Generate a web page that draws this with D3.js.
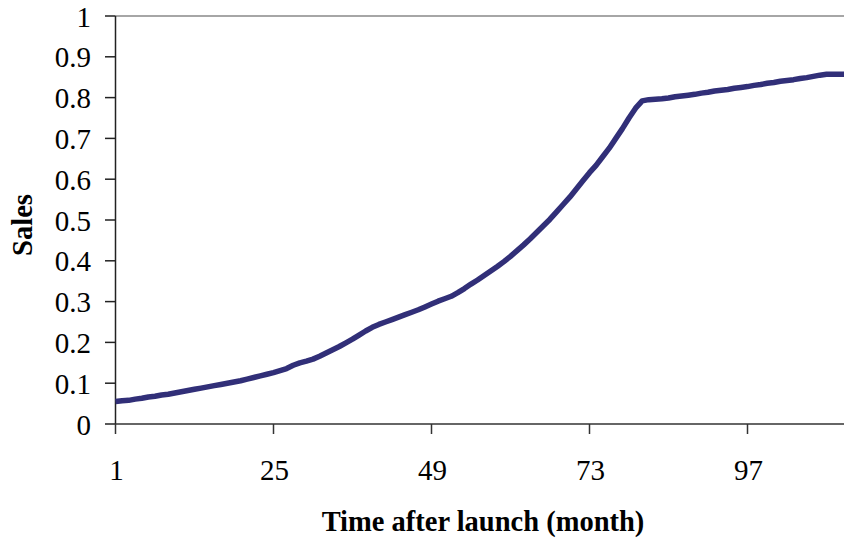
<!DOCTYPE html>
<html>
<head>
<meta charset="utf-8">
<script src="https://cdn.jsdelivr.net/npm/d3@7"></script>
<style>
html,body{margin:0;padding:0;background:#fff;}
svg{display:block;}
</style>
</head>
<body>
<svg id="chart" width="844" height="542"></svg>
<script>
const months = d3.range(1, 113);
const sales = [
0.055,0.057,0.058,0.061,0.063,0.066,0.068,0.071,0.073,0.076,
0.079,0.082,0.085,0.088,0.091,0.094,0.097,0.100,0.103,0.106,
0.110,0.114,0.118,0.122,0.126,0.131,0.136,0.144,0.150,0.154,
0.159,0.166,0.174,0.182,0.190,0.199,0.208,0.218,0.228,0.237,
0.244,0.250,0.256,0.262,0.268,0.274,0.280,0.287,0.294,0.301,
0.307,0.313,0.322,0.332,0.343,0.353,0.364,0.375,0.386,0.398,
0.411,0.425,0.439,0.454,0.470,0.486,0.502,0.520,0.538,0.556,
0.576,0.596,0.616,0.634,0.655,0.676,0.700,0.724,0.750,0.774,
0.792,0.795,0.796,0.797,0.799,0.802,0.804,0.806,0.808,0.811,
0.813,0.816,0.818,0.820,0.823,0.825,0.827,0.830,0.832,0.835,
0.837,0.840,0.842,0.844,0.847,0.849,0.852,0.855,0.857,0.857,
0.857,0.857
];
const xTicks = [1, 25, 49, 73, 97];
const yTicks = [0,0.1,0.2,0.3,0.4,0.5,0.6,0.7,0.8,0.9,1];
const xTitle = "Time after launch (month)";
const yTitle = "Sales";

const svg = d3.select("#chart");
const x = d3.scaleLinear().domain([1, 97]).range([115.5, 747.5]);
const y = d3.scaleLinear().domain([0, 1]).range([424, 16]);
const right = 844;
const font = "'Liberation Serif','Times New Roman',serif";

// top border
svg.append("line").attr("x1", 115.5).attr("x2", right).attr("y1", y(1)).attr("y2", y(1))
  .attr("stroke", "#888").attr("stroke-width", 1.5);

// y axis
const yAxis = svg.append("g");
yAxis.append("line").attr("x1", 115.5).attr("x2", 115.5).attr("y1", y(1)).attr("y2", y(0))
  .attr("stroke", "#222").attr("stroke-width", 1.5);
yAxis.selectAll(".yt").data(yTicks).join("line")
  .attr("x1", 105).attr("x2", 115.5).attr("y1", d => y(d)).attr("y2", d => y(d))
  .attr("stroke", "#222").attr("stroke-width", 1.5);
yAxis.selectAll(".yl").data(yTicks).join("text")
  .attr("x", 91).attr("y", d => y(d) + 10.5)
  .attr("text-anchor", "end").attr("font-family", font).attr("font-size", 29)
  .attr("fill", "#000").text(d => d3.format("~g")(d));

// x axis
const xAxis = svg.append("g");
xAxis.append("line").attr("x1", 115.5).attr("x2", right).attr("y1", y(0)).attr("y2", y(0))
  .attr("stroke", "#333").attr("stroke-width", 1.5);
xAxis.selectAll(".xt").data(xTicks).join("line")
  .attr("x1", d => x(d)).attr("x2", d => x(d)).attr("y1", y(0)).attr("y2", y(0) + 10)
  .attr("stroke", "#333").attr("stroke-width", 1.5);
xAxis.selectAll(".xl").data(xTicks).join("text")
  .attr("x", d => x(d) + 1).attr("y", 480)
  .attr("text-anchor", "middle").attr("font-family", font).attr("font-size", 29)
  .attr("fill", "#000").text(d => d);

// titles
svg.append("text").attr("x", 483).attr("y", 531).attr("text-anchor", "middle")
  .attr("font-family", font).attr("font-size", 28.5).attr("font-weight", "bold").text(xTitle);
svg.append("text").attr("transform", "translate(32,225) rotate(-90)").attr("text-anchor", "middle")
  .attr("font-family", font).attr("font-size", 28.5).attr("font-weight", "bold").text(yTitle);

// line
const line = d3.line().x((d, i) => x(months[i])).y(d => y(d));
svg.append("path").datum(sales).attr("d", line)
  .attr("fill", "none").attr("stroke", "#312f78").attr("stroke-width", 5.5)
  .attr("stroke-linejoin", "round");
</script>
</body>
</html>
